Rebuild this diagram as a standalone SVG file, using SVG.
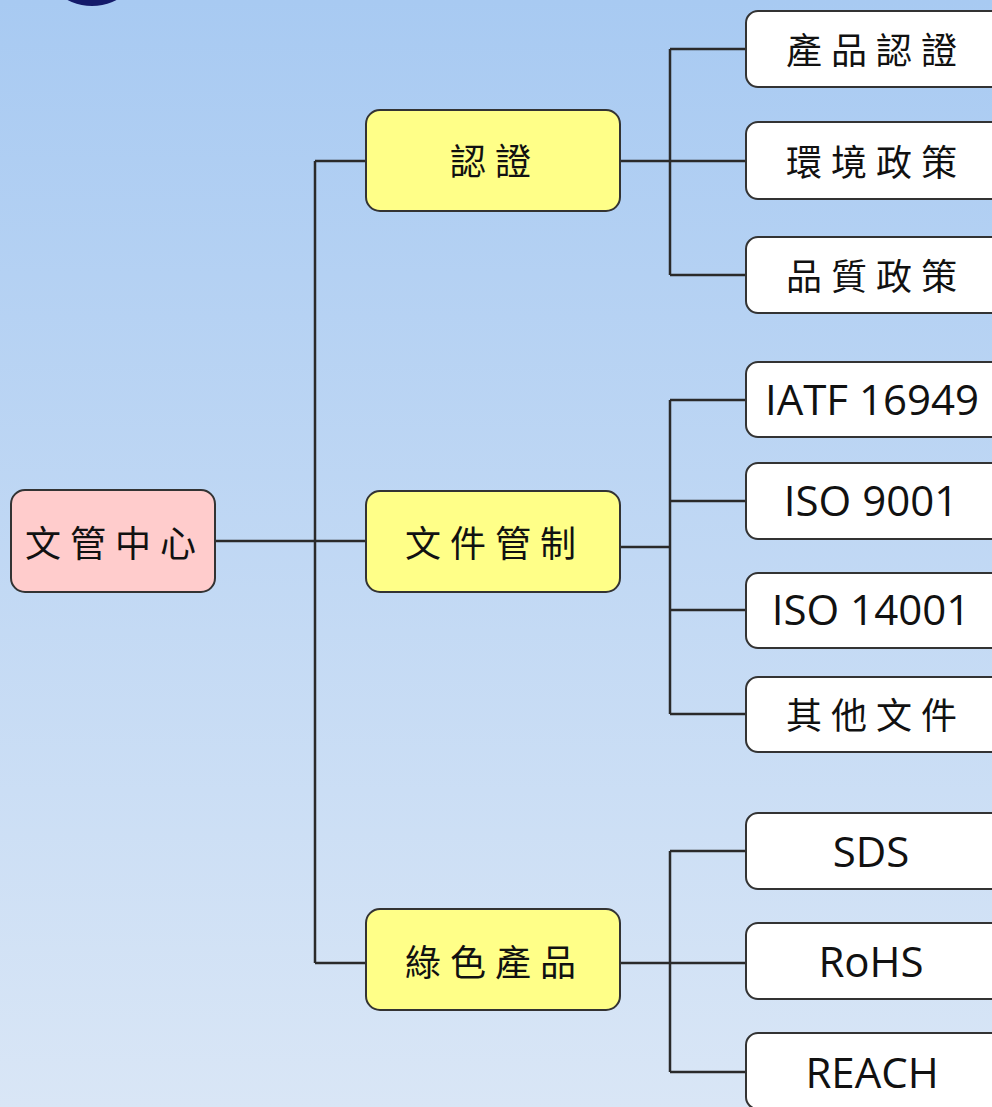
<svg xmlns="http://www.w3.org/2000/svg" width="992" height="1107" viewBox="0 0 992 1107">
<defs>
<linearGradient id="bg" x1="0" y1="0" x2="0" y2="1">
<stop offset="0" stop-color="#a8caf2"/>
<stop offset="1" stop-color="#d9e6f6"/>
</linearGradient>
</defs>
<style>
.box{stroke:#333;stroke-width:2}
.root{fill:#ffcccc}
.mid{fill:#ffff88}
.leaf{fill:#ffffff}
.cjk{font-family:"Noto Sans CJK TC","Noto Sans CJK SC",sans-serif;font-size:36px;letter-spacing:9px;fill:#111;text-anchor:middle;dominant-baseline:central}
.lat{font-family:"Open Sans","Noto Sans",sans-serif;font-size:42px;fill:#111;text-anchor:middle;dominant-baseline:central}
.conn{fill:none;stroke:#2a2a2a;stroke-width:2.5}
</style>
<rect width="992" height="1107" fill="url(#bg)"/>
<circle cx="92" cy="-47" r="53" fill="#141a6a"/>
<g id="connectors">
<path class="conn" d="M215,541 H366 M315,161 V963 M315,161 H366 M315,963 H366"/>
<path class="conn" d="M620,161 H746 M670,49 V275 M670,49 H746 M670,275 H746"/>
<path class="conn" d="M620,547 H670 M670,400 V714 M670,400 H746 M670,501 H746 M670,610 H746 M670,714 H746"/>
<path class="conn" d="M620,963 H746 M670,851 V1072 M670,851 H746 M670,1072 H746"/>
</g>
<g id="n-root"><rect class="box root" x="11" y="490" width="204" height="102" rx="14"/><text class="cjk" x="115" y="541">文管中心</text></g>
<g id="n-cert"><rect class="box mid" x="366" y="110" width="254" height="101" rx="14"/><text class="cjk" x="495" y="159">認證</text></g>
<g id="n-doc"><rect class="box mid" x="366" y="491" width="254" height="101" rx="14"/><text class="cjk" x="495" y="541">文件管制</text></g>
<g id="n-green"><rect class="box mid" x="366" y="909" width="254" height="101" rx="14"/><text class="cjk" x="495" y="960">綠色產品</text></g>
<g id="n-l1"><rect class="box leaf" x="746" y="11" width="270" height="76" rx="12"/><text class="cjk" x="876" y="48">產品認證</text></g>
<g id="n-l2"><rect class="box leaf" x="746" y="122" width="270" height="77" rx="12"/><text class="cjk" x="876" y="160">環境政策</text></g>
<g id="n-l3"><rect class="box leaf" x="746" y="237" width="270" height="76" rx="12"/><text class="cjk" x="876" y="274">品質政策</text></g>
<g id="n-l4"><rect class="box leaf" x="746" y="362" width="270" height="75" rx="12"/><text class="lat" x="872" y="398">IATF 16949</text></g>
<g id="n-l5"><rect class="box leaf" x="746" y="463" width="270" height="76" rx="12"/><text class="lat" x="871" y="499">ISO 9001</text></g>
<g id="n-l6"><rect class="box leaf" x="746" y="573" width="270" height="75" rx="12"/><text class="lat" x="871" y="608">ISO 14001</text></g>
<g id="n-l7"><rect class="box leaf" x="746" y="677" width="270" height="75" rx="12"/><text class="cjk" x="876" y="713">其他文件</text></g>
<g id="n-l8"><rect class="box leaf" x="746" y="813" width="270" height="76" rx="12"/><text class="lat" x="871" y="850">SDS</text></g>
<g id="n-l9"><rect class="box leaf" x="746" y="923" width="270" height="76" rx="12"/><text class="lat" x="871" y="960">RoHS</text></g>
<g id="n-l10"><rect class="box leaf" x="746" y="1033" width="270" height="76" rx="12"/><text class="lat" x="872" y="1071">REACH</text></g>
</svg>
